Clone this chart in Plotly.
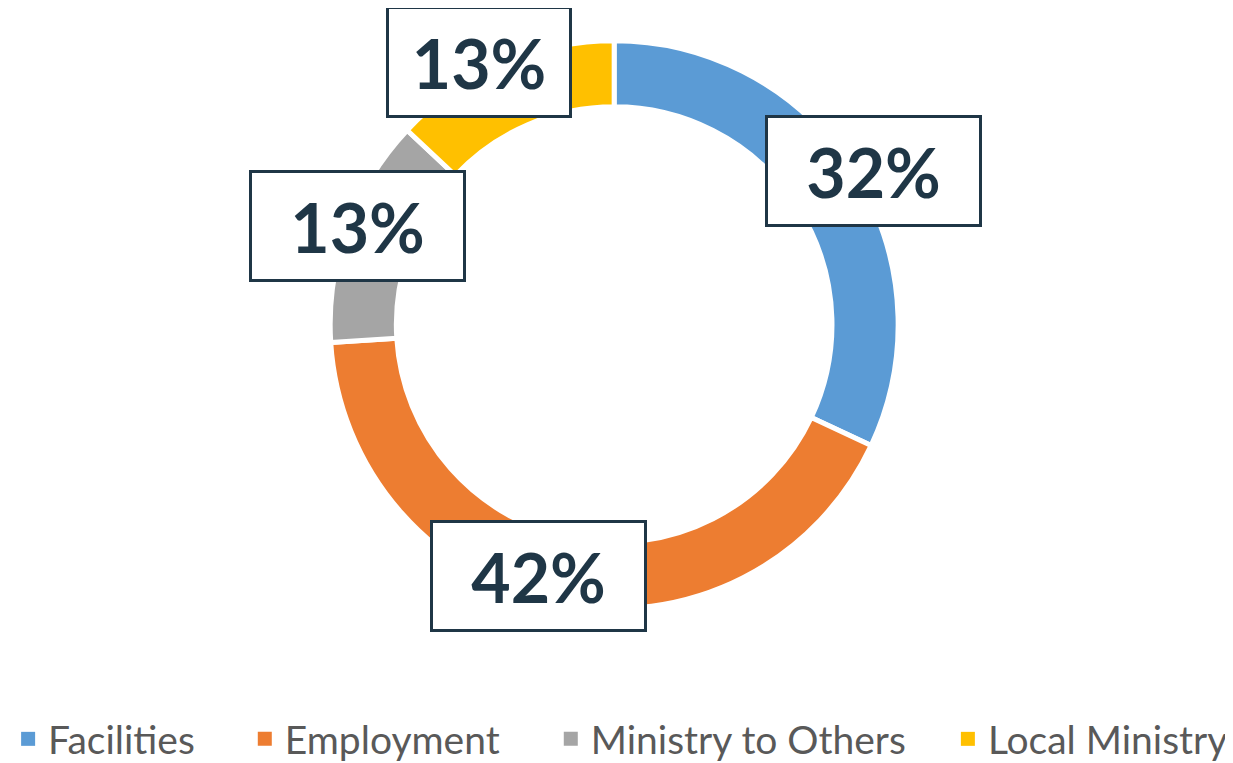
import plotly.graph_objects as go

categories = ["Facilities", "Employment", "Ministry to Others", "Local Ministry"]
values = [32, 42, 13, 13]
colors = ["#5B9BD5", "#ED7D31", "#A5A5A5", "#FFC000"]
label_texts = ["32%", "42%", "13%", "13%"]

W, H = 1233, 763
OFF = 8  # browser body margin
cx, cy, r = 608 - OFF, 328 - OFF, 287

fig = go.Figure()
fig.add_trace(go.Pie(
    labels=categories,
    values=values,
    hole=0.767,
    sort=False,
    direction="clockwise",
    rotation=0,
    marker=dict(colors=colors, line=dict(color="white", width=5)),
    textinfo="none",
    hoverinfo="label+percent",
    showlegend=False,
    domain=dict(x=[(cx - r) / W, (cx + r) / W], y=[(H - cy - r) / H, (H - cy + r) / H]),
))

# legend entries (one legend per entry so spacing matches)
legend_text_x = [36, 275, 584, 985]
legend_names = ["legend", "legend2", "legend3", "legend4"]
legend_layout = {}
for name, col, lname, tx in zip(categories, colors, legend_names, legend_text_x):
    fig.add_trace(go.Scatter(
        x=[None], y=[None], mode="markers", name=name,
        marker=dict(symbol="square", size=14, color=col),
        legend=lname, showlegend=True, hoverinfo="skip",
    ))
    legend_layout[lname] = dict(
        x=(tx - OFF - 40) / W, xanchor="left", y=1 - (747 - OFF) / H, yanchor="middle",
        font=dict(family="Lato", size=39, color="#595959"),
        bgcolor="rgba(0,0,0,0)", borderwidth=0,
    )

# label boxes (centre x, centre y in page pixels, box width)
boxes = [
    (870, 173, 217),
    (532, 582, 217),
    (349, 228, 217),
    (472, 63, 186),
]
annotations = []
for txt, (bx, by, bw) in zip(label_texts, boxes):
    annotations.append(dict(
        x=(bx - OFF) / W, y=1 - (by - OFF) / H, xref="paper", yref="paper",
        text="<b>%s</b>" % txt, showarrow=False,
        font=dict(family="Lato", size=68, color="#1F3646"),
        bgcolor="white", bordercolor="#1F3646", borderwidth=3, borderpad=0,
        width=bw - 6, height=112 - 6, xanchor="center", yanchor="middle",
    ))

fig.update_layout(
    width=W, height=H,
    margin=dict(l=0, r=0, t=0, b=0),
    paper_bgcolor="white",
    plot_bgcolor="white",
    xaxis=dict(visible=False),
    yaxis=dict(visible=False),
    annotations=annotations,
    **legend_layout,
)

fig.write_html("out.html")
